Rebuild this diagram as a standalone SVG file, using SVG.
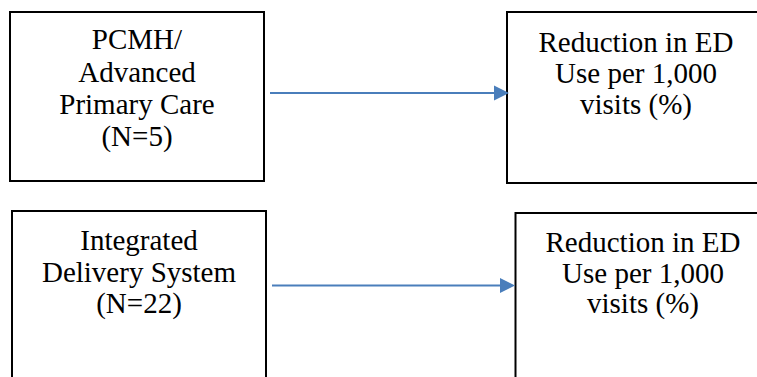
<svg xmlns="http://www.w3.org/2000/svg" width="757" height="377" viewBox="0 0 757 377">
<style>
.box{fill:#fff;stroke:#000;stroke-width:2}
.t{font-family:"Liberation Serif","Times New Roman",serif;font-size:29px;fill:#000;text-anchor:middle}
.conn{stroke:#4A7EBB;stroke-width:2;fill:none}
.head{fill:#4A7EBB}
</style>
<rect width="757" height="377" fill="#fff"/>
<g id="node-pcmh">
<rect class="box" x="10" y="12" width="254" height="169"/>
<text class="t" x="137" y="49">PCMH/</text>
<text class="t" x="137" y="81.5">Advanced</text>
<text class="t" x="137" y="114">Primary Care</text>
<text class="t" x="137" y="146">(N=5)</text>
</g>
<g id="node-reduction-1">
<rect class="box" x="507" y="12" width="260" height="171"/>
<text class="t" x="636" y="52">Reduction in ED</text>
<text class="t" x="636" y="83">Use per 1,000</text>
<text class="t" x="636" y="114">visits (%)</text>
</g>
<g id="node-ids">
<rect class="box" x="12" y="211" width="254" height="180"/>
<text class="t" x="139" y="250">Integrated</text>
<text class="t" x="139" y="281.5">Delivery System</text>
<text class="t" x="139" y="312.5">(N=22)</text>
</g>
<g id="node-reduction-2">
<rect class="box" x="515.5" y="213" width="260" height="180"/>
<text class="t" x="643" y="251.5">Reduction in ED</text>
<text class="t" x="643" y="282.5">Use per 1,000</text>
<text class="t" x="643" y="313">visits (%)</text>
</g>
<g id="connectors">
<line class="conn" x1="270" y1="93" x2="495" y2="93"/>
<polygon class="head" points="494,85.5 509,93 494,100.5"/>
<line class="conn" x1="272" y1="285.5" x2="501" y2="285.5"/>
<polygon class="head" points="500,278 515,285.5 500,293"/>
</g>
</svg>
